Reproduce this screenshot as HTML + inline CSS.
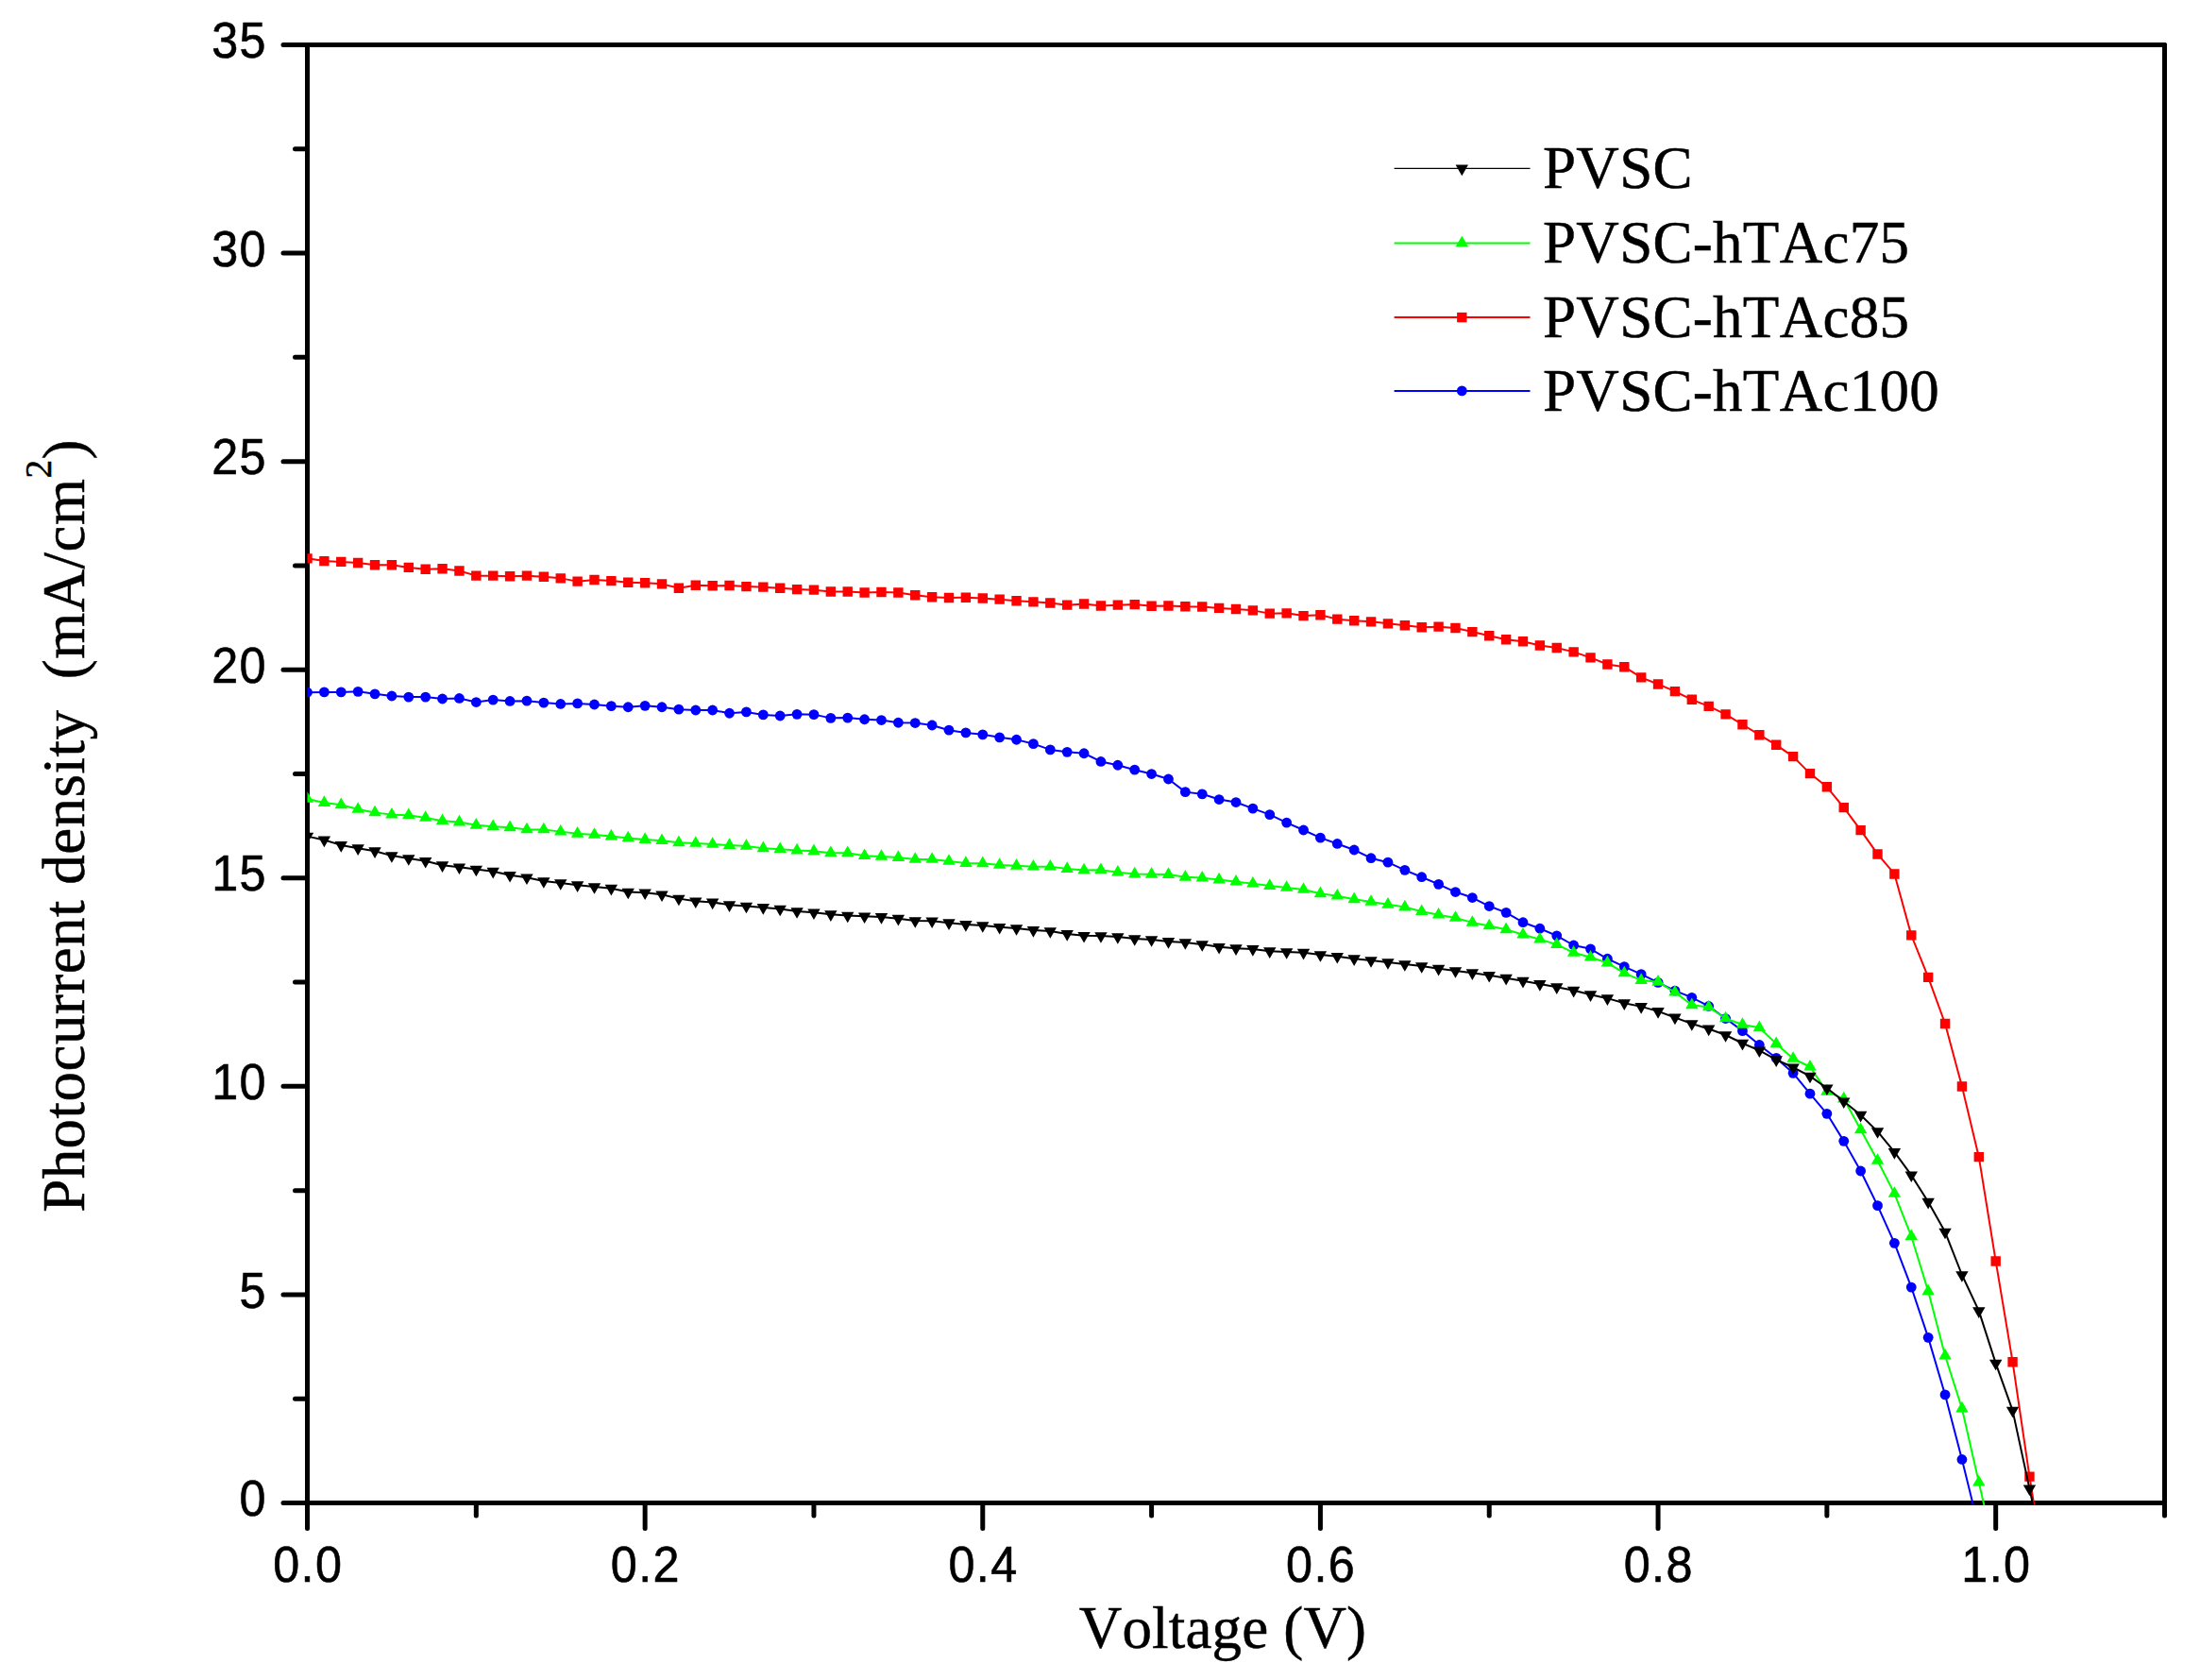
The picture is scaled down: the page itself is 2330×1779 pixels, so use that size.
<!DOCTYPE html>
<html lang="en"><head><meta charset="utf-8"><title>J-V curves</title>
<style>html,body{margin:0;padding:0;background:#fff}svg{display:block}text{font-kerning:none;font-variant-ligatures:none}.tk{font-family:"Liberation Sans",Arial,sans-serif;font-size:53px;fill:#000;stroke:#000;stroke-width:0.6px;letter-spacing:1.45px}.tt{font-family:"Liberation Serif","Times New Roman",serif;font-size:63px;fill:#000;stroke:#000;stroke-width:0.5px}.lg{font-family:"Liberation Serif","Times New Roman",serif;font-size:63px;fill:#000;stroke:#000;stroke-width:0.5px}.ax{stroke:#000;stroke-width:5;stroke-linecap:round;fill:none}</style></head><body>
<svg width="2330" height="1779" viewBox="0 0 2330 1779">
<rect width="2330" height="1779" fill="#fff"/>
<defs><clipPath id="pc"><rect x="325.5" y="45" width="1967" height="1549"/></clipPath></defs>
<g class="ax">
<path d="M325.5 47.5H2292.5"/>
<path d="M325.5 1591.5H2292.5"/>
<path d="M325.5 47.5V1591.5"/>
<path d="M2292.5 47.5V1591.5"/>
<path d="M325.5 1591.5h-25.5M325.5 1481.21h-13M325.5 1370.93h-25.5M325.5 1260.64h-13M325.5 1150.36h-25.5M325.5 1040.07h-13M325.5 929.79h-25.5M325.5 819.5h-13M325.5 709.21h-25.5M325.5 598.93h-13M325.5 488.64h-25.5M325.5 378.36h-13M325.5 268.07h-25.5M325.5 157.79h-13M325.5 47.5h-25.5M325.5 1591.5v27M504.32 1591.5v13.5M683.14 1591.5v27M861.95 1591.5v13.5M1040.77 1591.5v27M1219.59 1591.5v13.5M1398.41 1591.5v27M1577.23 1591.5v13.5M1756.05 1591.5v27M1934.86 1591.5v13.5M2113.68 1591.5v27M2292.5 1591.5v13.5"/>
</g>
<g class="tk" text-anchor="end">
<text transform="translate(283 1605.1) scale(0.95 1)">0</text>
<text transform="translate(283 1384.53) scale(0.95 1)">5</text>
<text transform="translate(283 1163.96) scale(0.95 1)">10</text>
<text transform="translate(283 943.39) scale(0.95 1)">15</text>
<text transform="translate(283 722.81) scale(0.95 1)">20</text>
<text transform="translate(283 502.24) scale(0.95 1)">25</text>
<text transform="translate(283 281.67) scale(0.95 1)">30</text>
<text transform="translate(283 61.1) scale(0.95 1)">35</text>
</g>
<g class="tk" text-anchor="middle">
<text transform="translate(326.2 1675.3) scale(0.95 1)">0.0</text>
<text transform="translate(683.84 1675.3) scale(0.95 1)">0.2</text>
<text transform="translate(1041.47 1675.3) scale(0.95 1)">0.4</text>
<text transform="translate(1399.11 1675.3) scale(0.95 1)">0.6</text>
<text transform="translate(1756.75 1675.3) scale(0.95 1)">0.8</text>
<text transform="translate(2114.38 1675.3) scale(0.95 1)">1.0</text>
</g>
<text class="tt" text-anchor="middle" letter-spacing="0.17" x="1295" y="1744.5">Voltage (V)</text>
<text class="tt" text-anchor="middle" letter-spacing="0.45" transform="translate(89.2 874.4) rotate(-90)" xml:space="preserve">Photocurrent density  (mA/cm<tspan font-size="39.5" dy="-35.3">2</tspan><tspan dy="35.3">)</tspan></text>
<g clip-path="url(#pc)">
<polyline points="325.5,733.18 343.38,732.91 361.26,732.91 379.15,732.36 397.03,734.82 414.91,737 432.79,738.09 450.67,738.09 468.55,740 486.44,739.45 504.32,743.54 522.2,741.09 540.08,742.45 557.96,742.18 575.85,744.09 593.73,745.45 611.61,744.91 629.49,746 647.37,747.63 665.25,748.73 683.14,747.36 701.02,748.73 718.9,751.18 736.78,752 754.66,752 772.55,755.27 790.43,753.91 808.31,756.91 826.19,758 844.07,756.36 861.95,756.63 879.84,760.36 897.72,760.09 915.6,761.73 933.48,762.54 951.36,765.27 969.25,765.54 987.13,768 1005.01,773.18 1022.89,775.91 1040.77,777.82 1058.65,780.82 1076.54,783.27 1094.42,787.63 1112.3,793.91 1130.18,796.36 1148.06,797.73 1165.95,806.45 1183.83,810.27 1201.71,815.18 1219.59,819.54 1237.47,825 1255.35,838.63 1273.24,840.82 1291.12,846.54 1309,849.54 1326.88,856.09 1344.76,862.63 1362.65,871.09 1380.53,879 1398.41,887.18 1416.29,893.45 1434.17,900 1452.05,908.72 1469.94,913.18 1487.82,921.36 1505.7,928.72 1523.58,936.36 1541.46,944.54 1559.35,950.54 1577.23,959.54 1595.11,966.36 1612.99,976.72 1630.87,983.27 1648.75,990.91 1666.64,1001 1684.52,1004.81 1702.4,1015.27 1720.28,1023.56 1738.16,1031.64 1756.05,1040.36 1773.93,1049.09 1791.81,1056.29 1809.69,1065.46 1827.57,1078.55 1845.45,1091.64 1863.34,1106.47 1881.22,1120.44 1899.1,1136.36 1916.98,1158.18 1934.86,1179.35 1952.75,1208.37 1970.63,1240 1988.51,1276.66 2006.39,1316.36 2024.27,1363.09 2042.15,1416.36 2060.04,1476.91 2077.92,1545.45 2095.8,1618.18" fill="none" stroke="#0000ff" stroke-width="2" stroke-linejoin="round"/>
<g fill="#0000ff"><circle cx="325.5" cy="733.18" r="5.4"/><circle cx="343.38" cy="732.91" r="5.4"/><circle cx="361.26" cy="732.91" r="5.4"/><circle cx="379.15" cy="732.36" r="5.4"/><circle cx="397.03" cy="734.82" r="5.4"/><circle cx="414.91" cy="737" r="5.4"/><circle cx="432.79" cy="738.09" r="5.4"/><circle cx="450.67" cy="738.09" r="5.4"/><circle cx="468.55" cy="740" r="5.4"/><circle cx="486.44" cy="739.45" r="5.4"/><circle cx="504.32" cy="743.54" r="5.4"/><circle cx="522.2" cy="741.09" r="5.4"/><circle cx="540.08" cy="742.45" r="5.4"/><circle cx="557.96" cy="742.18" r="5.4"/><circle cx="575.85" cy="744.09" r="5.4"/><circle cx="593.73" cy="745.45" r="5.4"/><circle cx="611.61" cy="744.91" r="5.4"/><circle cx="629.49" cy="746" r="5.4"/><circle cx="647.37" cy="747.63" r="5.4"/><circle cx="665.25" cy="748.73" r="5.4"/><circle cx="683.14" cy="747.36" r="5.4"/><circle cx="701.02" cy="748.73" r="5.4"/><circle cx="718.9" cy="751.18" r="5.4"/><circle cx="736.78" cy="752" r="5.4"/><circle cx="754.66" cy="752" r="5.4"/><circle cx="772.55" cy="755.27" r="5.4"/><circle cx="790.43" cy="753.91" r="5.4"/><circle cx="808.31" cy="756.91" r="5.4"/><circle cx="826.19" cy="758" r="5.4"/><circle cx="844.07" cy="756.36" r="5.4"/><circle cx="861.95" cy="756.63" r="5.4"/><circle cx="879.84" cy="760.36" r="5.4"/><circle cx="897.72" cy="760.09" r="5.4"/><circle cx="915.6" cy="761.73" r="5.4"/><circle cx="933.48" cy="762.54" r="5.4"/><circle cx="951.36" cy="765.27" r="5.4"/><circle cx="969.25" cy="765.54" r="5.4"/><circle cx="987.13" cy="768" r="5.4"/><circle cx="1005.01" cy="773.18" r="5.4"/><circle cx="1022.89" cy="775.91" r="5.4"/><circle cx="1040.77" cy="777.82" r="5.4"/><circle cx="1058.65" cy="780.82" r="5.4"/><circle cx="1076.54" cy="783.27" r="5.4"/><circle cx="1094.42" cy="787.63" r="5.4"/><circle cx="1112.3" cy="793.91" r="5.4"/><circle cx="1130.18" cy="796.36" r="5.4"/><circle cx="1148.06" cy="797.73" r="5.4"/><circle cx="1165.95" cy="806.45" r="5.4"/><circle cx="1183.83" cy="810.27" r="5.4"/><circle cx="1201.71" cy="815.18" r="5.4"/><circle cx="1219.59" cy="819.54" r="5.4"/><circle cx="1237.47" cy="825" r="5.4"/><circle cx="1255.35" cy="838.63" r="5.4"/><circle cx="1273.24" cy="840.82" r="5.4"/><circle cx="1291.12" cy="846.54" r="5.4"/><circle cx="1309" cy="849.54" r="5.4"/><circle cx="1326.88" cy="856.09" r="5.4"/><circle cx="1344.76" cy="862.63" r="5.4"/><circle cx="1362.65" cy="871.09" r="5.4"/><circle cx="1380.53" cy="879" r="5.4"/><circle cx="1398.41" cy="887.18" r="5.4"/><circle cx="1416.29" cy="893.45" r="5.4"/><circle cx="1434.17" cy="900" r="5.4"/><circle cx="1452.05" cy="908.72" r="5.4"/><circle cx="1469.94" cy="913.18" r="5.4"/><circle cx="1487.82" cy="921.36" r="5.4"/><circle cx="1505.7" cy="928.72" r="5.4"/><circle cx="1523.58" cy="936.36" r="5.4"/><circle cx="1541.46" cy="944.54" r="5.4"/><circle cx="1559.35" cy="950.54" r="5.4"/><circle cx="1577.23" cy="959.54" r="5.4"/><circle cx="1595.11" cy="966.36" r="5.4"/><circle cx="1612.99" cy="976.72" r="5.4"/><circle cx="1630.87" cy="983.27" r="5.4"/><circle cx="1648.75" cy="990.91" r="5.4"/><circle cx="1666.64" cy="1001" r="5.4"/><circle cx="1684.52" cy="1004.81" r="5.4"/><circle cx="1702.4" cy="1015.27" r="5.4"/><circle cx="1720.28" cy="1023.56" r="5.4"/><circle cx="1738.16" cy="1031.64" r="5.4"/><circle cx="1756.05" cy="1040.36" r="5.4"/><circle cx="1773.93" cy="1049.09" r="5.4"/><circle cx="1791.81" cy="1056.29" r="5.4"/><circle cx="1809.69" cy="1065.46" r="5.4"/><circle cx="1827.57" cy="1078.55" r="5.4"/><circle cx="1845.45" cy="1091.64" r="5.4"/><circle cx="1863.34" cy="1106.47" r="5.4"/><circle cx="1881.22" cy="1120.44" r="5.4"/><circle cx="1899.1" cy="1136.36" r="5.4"/><circle cx="1916.98" cy="1158.18" r="5.4"/><circle cx="1934.86" cy="1179.35" r="5.4"/><circle cx="1952.75" cy="1208.37" r="5.4"/><circle cx="1970.63" cy="1240" r="5.4"/><circle cx="1988.51" cy="1276.66" r="5.4"/><circle cx="2006.39" cy="1316.36" r="5.4"/><circle cx="2024.27" cy="1363.09" r="5.4"/><circle cx="2042.15" cy="1416.36" r="5.4"/><circle cx="2060.04" cy="1476.91" r="5.4"/><circle cx="2077.92" cy="1545.45" r="5.4"/><circle cx="2095.8" cy="1618.18" r="5.4"/></g>
<polyline points="325.5,591.36 343.38,594.09 361.26,594.91 379.15,596 397.03,598.18 414.91,598.18 432.79,600.91 450.67,602.82 468.55,602.27 486.44,604.45 504.32,609.64 522.2,609.64 540.08,610.18 557.96,609.64 575.85,610.73 593.73,612.36 611.61,615.64 629.49,614 647.37,615.09 665.25,616.73 683.14,617.27 701.02,618.36 718.9,622.73 736.78,619.73 754.66,620.27 772.55,620 790.43,621.09 808.31,621.64 826.19,622.73 844.07,624.09 861.95,624.64 879.84,626.45 897.72,626.45 915.6,627.55 933.48,627 951.36,627.55 969.25,630.27 987.13,632.18 1005.01,633 1022.89,632.73 1040.77,633.55 1058.65,634.64 1076.54,636.27 1094.42,637.36 1112.3,638.45 1130.18,640.64 1148.06,639.55 1165.95,641.45 1183.83,640.64 1201.71,640.09 1219.59,641.73 1237.47,641.45 1255.35,642.27 1273.24,642.55 1291.12,643.91 1309,645 1326.88,646.36 1344.76,649.64 1362.65,649.36 1380.53,652.09 1398.41,651.27 1416.29,655.64 1434.17,657.27 1452.05,658.36 1469.94,660.36 1487.82,662.27 1505.7,664.18 1523.58,663.64 1541.46,665 1559.35,669.09 1577.23,673.18 1595.11,677.27 1612.99,679.18 1630.87,683.54 1648.75,686 1666.64,690.36 1684.52,696.36 1702.4,703.45 1720.28,706.18 1738.16,717.36 1756.05,724.45 1773.93,732.09 1791.81,740.82 1809.69,747.91 1827.57,756.36 1845.45,767.27 1863.34,778.18 1881.22,788.82 1899.1,801.09 1916.98,819.09 1934.86,833.27 1952.75,855.09 1970.63,879.09 1988.51,904.45 2006.39,925.45 2024.27,990.36 2042.15,1034.91 2060.04,1084 2077.92,1150.55 2095.8,1225.17 2113.68,1335.45 2131.56,1442.18 2149.45,1563.64 2167.33,1674.91" fill="none" stroke="#ff0000" stroke-width="2" stroke-linejoin="round"/>
<path fill="#ff0000" d="M320.3 586.16h10.4v10.4h-10.4zM338.18 588.89h10.4v10.4h-10.4zM356.06 589.71h10.4v10.4h-10.4zM373.95 590.8h10.4v10.4h-10.4zM391.83 592.98h10.4v10.4h-10.4zM409.71 592.98h10.4v10.4h-10.4zM427.59 595.71h10.4v10.4h-10.4zM445.47 597.62h10.4v10.4h-10.4zM463.35 597.07h10.4v10.4h-10.4zM481.24 599.25h10.4v10.4h-10.4zM499.12 604.44h10.4v10.4h-10.4zM517 604.44h10.4v10.4h-10.4zM534.88 604.98h10.4v10.4h-10.4zM552.76 604.44h10.4v10.4h-10.4zM570.65 605.53h10.4v10.4h-10.4zM588.53 607.16h10.4v10.4h-10.4zM606.41 610.44h10.4v10.4h-10.4zM624.29 608.8h10.4v10.4h-10.4zM642.17 609.89h10.4v10.4h-10.4zM660.05 611.53h10.4v10.4h-10.4zM677.94 612.07h10.4v10.4h-10.4zM695.82 613.16h10.4v10.4h-10.4zM713.7 617.53h10.4v10.4h-10.4zM731.58 614.53h10.4v10.4h-10.4zM749.46 615.07h10.4v10.4h-10.4zM767.35 614.8h10.4v10.4h-10.4zM785.23 615.89h10.4v10.4h-10.4zM803.11 616.44h10.4v10.4h-10.4zM820.99 617.53h10.4v10.4h-10.4zM838.87 618.89h10.4v10.4h-10.4zM856.75 619.44h10.4v10.4h-10.4zM874.64 621.25h10.4v10.4h-10.4zM892.52 621.25h10.4v10.4h-10.4zM910.4 622.35h10.4v10.4h-10.4zM928.28 621.8h10.4v10.4h-10.4zM946.16 622.35h10.4v10.4h-10.4zM964.05 625.07h10.4v10.4h-10.4zM981.93 626.98h10.4v10.4h-10.4zM999.81 627.8h10.4v10.4h-10.4zM1017.69 627.53h10.4v10.4h-10.4zM1035.57 628.35h10.4v10.4h-10.4zM1053.45 629.44h10.4v10.4h-10.4zM1071.34 631.07h10.4v10.4h-10.4zM1089.22 632.16h10.4v10.4h-10.4zM1107.1 633.25h10.4v10.4h-10.4zM1124.98 635.44h10.4v10.4h-10.4zM1142.86 634.35h10.4v10.4h-10.4zM1160.75 636.25h10.4v10.4h-10.4zM1178.63 635.44h10.4v10.4h-10.4zM1196.51 634.89h10.4v10.4h-10.4zM1214.39 636.53h10.4v10.4h-10.4zM1232.27 636.25h10.4v10.4h-10.4zM1250.15 637.07h10.4v10.4h-10.4zM1268.04 637.35h10.4v10.4h-10.4zM1285.92 638.71h10.4v10.4h-10.4zM1303.8 639.8h10.4v10.4h-10.4zM1321.68 641.16h10.4v10.4h-10.4zM1339.56 644.44h10.4v10.4h-10.4zM1357.45 644.16h10.4v10.4h-10.4zM1375.33 646.89h10.4v10.4h-10.4zM1393.21 646.07h10.4v10.4h-10.4zM1411.09 650.44h10.4v10.4h-10.4zM1428.97 652.07h10.4v10.4h-10.4zM1446.85 653.16h10.4v10.4h-10.4zM1464.74 655.16h10.4v10.4h-10.4zM1482.62 657.07h10.4v10.4h-10.4zM1500.5 658.98h10.4v10.4h-10.4zM1518.38 658.44h10.4v10.4h-10.4zM1536.26 659.8h10.4v10.4h-10.4zM1554.15 663.89h10.4v10.4h-10.4zM1572.03 667.98h10.4v10.4h-10.4zM1589.91 672.07h10.4v10.4h-10.4zM1607.79 673.98h10.4v10.4h-10.4zM1625.67 678.34h10.4v10.4h-10.4zM1643.55 680.8h10.4v10.4h-10.4zM1661.44 685.16h10.4v10.4h-10.4zM1679.32 691.16h10.4v10.4h-10.4zM1697.2 698.25h10.4v10.4h-10.4zM1715.08 700.98h10.4v10.4h-10.4zM1732.96 712.16h10.4v10.4h-10.4zM1750.85 719.25h10.4v10.4h-10.4zM1768.73 726.89h10.4v10.4h-10.4zM1786.61 735.62h10.4v10.4h-10.4zM1804.49 742.71h10.4v10.4h-10.4zM1822.37 751.16h10.4v10.4h-10.4zM1840.25 762.07h10.4v10.4h-10.4zM1858.14 772.98h10.4v10.4h-10.4zM1876.02 783.62h10.4v10.4h-10.4zM1893.9 795.89h10.4v10.4h-10.4zM1911.78 813.89h10.4v10.4h-10.4zM1929.66 828.07h10.4v10.4h-10.4zM1947.55 849.89h10.4v10.4h-10.4zM1965.43 873.89h10.4v10.4h-10.4zM1983.31 899.25h10.4v10.4h-10.4zM2001.19 920.25h10.4v10.4h-10.4zM2019.07 985.16h10.4v10.4h-10.4zM2036.95 1029.71h10.4v10.4h-10.4zM2054.84 1078.8h10.4v10.4h-10.4zM2072.72 1145.35h10.4v10.4h-10.4zM2090.6 1219.97h10.4v10.4h-10.4zM2108.48 1330.25h10.4v10.4h-10.4zM2126.36 1436.98h10.4v10.4h-10.4zM2144.25 1558.44h10.4v10.4h-10.4zM2162.13 1669.71h10.4v10.4h-10.4z"/>
<polyline points="325.5,846 343.38,850.09 361.26,852.27 379.15,856.91 397.03,860.45 414.91,862.63 432.79,863.18 450.67,865.91 468.55,869.18 486.44,870.54 504.32,873.82 522.2,875.18 540.08,876.27 557.96,878.45 575.85,878.45 593.73,880.63 611.61,882.82 629.49,883.91 647.37,885.54 665.25,887.45 683.14,889.09 701.02,890.18 718.9,892.36 736.78,892.91 754.66,894 772.55,895.09 790.43,895.91 808.31,898.36 826.19,899.18 844.07,900.54 861.95,901.36 879.84,903.18 897.72,903.18 915.6,906.18 933.48,907 951.36,908.09 969.25,910 987.13,910 1005.01,911.91 1022.89,914.09 1040.77,914.36 1058.65,916 1076.54,916.82 1094.42,917.63 1112.3,917.63 1130.18,920.09 1148.06,921.45 1165.95,921.18 1183.83,923.63 1201.71,925.54 1219.59,925.82 1237.47,926.09 1255.35,928.82 1273.24,929.63 1291.12,931.54 1309,933.72 1326.88,935.63 1344.76,938.09 1362.65,940 1380.53,941.91 1398.41,946.27 1416.29,948.72 1434.17,952.27 1452.05,955 1469.94,957.82 1487.82,960.54 1505.7,965.18 1523.58,968.72 1541.46,972 1559.35,976.91 1577.23,980.45 1595.11,984.27 1612.99,989.72 1630.87,994.63 1648.75,1000.09 1666.64,1008.81 1684.52,1013.72 1702.4,1019.55 1720.28,1030.45 1738.16,1038.09 1756.05,1039.84 1773.93,1050.75 1791.81,1064.27 1809.69,1066.46 1827.57,1078.46 1845.45,1085 1863.34,1088.27 1881.22,1105.29 1899.1,1121 1916.98,1129.73 1934.86,1155.91 1952.75,1163.55 1970.63,1196.27 1988.51,1229 2006.39,1263.91 2024.27,1309.18 2042.15,1367.36 2060.04,1435.55 2077.92,1491.55 2095.8,1569.73 2113.68,1647.36" fill="none" stroke="#00ff00" stroke-width="2" stroke-linejoin="round"/>
<path fill="#00ff00" d="M325.5 838.26L332.2 849.87L318.8 849.87zM343.38 842.35L350.08 853.96L336.68 853.96zM361.26 844.53L367.96 856.14L354.56 856.14zM379.15 849.17L385.85 860.77L372.45 860.77zM397.03 852.72L403.73 864.32L390.33 864.32zM414.91 854.9L421.61 866.5L408.21 866.5zM432.79 855.44L439.49 867.05L426.09 867.05zM450.67 858.17L457.37 869.77L443.97 869.77zM468.55 861.44L475.25 873.05L461.85 873.05zM486.44 862.81L493.14 874.41L479.74 874.41zM504.32 866.08L511.02 877.68L497.62 877.68zM522.2 867.44L528.9 879.05L515.5 879.05zM540.08 868.53L546.78 880.14L533.38 880.14zM557.96 870.72L564.66 882.32L551.26 882.32zM575.85 870.72L582.55 882.32L569.15 882.32zM593.73 872.9L600.43 884.5L587.03 884.5zM611.61 875.08L618.31 886.68L604.91 886.68zM629.49 876.17L636.19 887.77L622.79 887.77zM647.37 877.81L654.07 889.41L640.67 889.41zM665.25 879.72L671.95 891.32L658.55 891.32zM683.14 881.35L689.84 892.96L676.44 892.96zM701.02 882.44L707.72 894.05L694.32 894.05zM718.9 884.62L725.6 896.23L712.2 896.23zM736.78 885.17L743.48 896.77L730.08 896.77zM754.66 886.26L761.36 897.87L747.96 897.87zM772.55 887.35L779.25 898.96L765.85 898.96zM790.43 888.17L797.13 899.77L783.73 899.77zM808.31 890.62L815.01 902.23L801.61 902.23zM826.19 891.44L832.89 903.05L819.49 903.05zM844.07 892.81L850.77 904.41L837.37 904.41zM861.95 893.62L868.65 905.23L855.25 905.23zM879.84 895.44L886.54 907.05L873.14 907.05zM897.72 895.44L904.42 907.05L891.02 907.05zM915.6 898.44L922.3 910.05L908.9 910.05zM933.48 899.26L940.18 910.87L926.78 910.87zM951.36 900.35L958.06 911.96L944.66 911.96zM969.25 902.26L975.95 913.87L962.55 913.87zM987.13 902.26L993.83 913.87L980.43 913.87zM1005.01 904.17L1011.71 915.77L998.31 915.77zM1022.89 906.35L1029.59 917.96L1016.19 917.96zM1040.77 906.62L1047.47 918.23L1034.07 918.23zM1058.65 908.26L1065.35 919.87L1051.95 919.87zM1076.54 909.08L1083.24 920.68L1069.84 920.68zM1094.42 909.9L1101.12 921.5L1087.72 921.5zM1112.3 909.9L1119 921.5L1105.6 921.5zM1130.18 912.35L1136.88 923.96L1123.48 923.96zM1148.06 913.72L1154.76 925.32L1141.36 925.32zM1165.95 913.44L1172.65 925.05L1159.25 925.05zM1183.83 915.9L1190.53 927.5L1177.13 927.5zM1201.71 917.81L1208.41 929.41L1195.01 929.41zM1219.59 918.08L1226.29 929.68L1212.89 929.68zM1237.47 918.35L1244.17 929.96L1230.77 929.96zM1255.35 921.08L1262.05 932.68L1248.65 932.68zM1273.24 921.9L1279.94 933.5L1266.54 933.5zM1291.12 923.81L1297.82 935.41L1284.42 935.41zM1309 925.99L1315.7 937.59L1302.3 937.59zM1326.88 927.9L1333.58 939.5L1320.18 939.5zM1344.76 930.35L1351.46 941.96L1338.06 941.96zM1362.65 932.26L1369.35 943.87L1355.95 943.87zM1380.53 934.17L1387.23 945.77L1373.83 945.77zM1398.41 938.53L1405.11 950.14L1391.71 950.14zM1416.29 940.99L1422.99 952.59L1409.59 952.59zM1434.17 944.53L1440.87 956.14L1427.47 956.14zM1452.05 947.26L1458.75 958.87L1445.35 958.87zM1469.94 950.08L1476.64 961.68L1463.24 961.68zM1487.82 952.81L1494.52 964.41L1481.12 964.41zM1505.7 957.44L1512.4 969.05L1499 969.05zM1523.58 960.99L1530.28 972.59L1516.88 972.59zM1541.46 964.26L1548.16 975.87L1534.76 975.87zM1559.35 969.17L1566.05 980.77L1552.65 980.77zM1577.23 972.71L1583.93 984.32L1570.53 984.32zM1595.11 976.53L1601.81 988.14L1588.41 988.14zM1612.99 981.99L1619.69 993.59L1606.29 993.59zM1630.87 986.9L1637.57 998.5L1624.17 998.5zM1648.75 992.35L1655.45 1003.96L1642.05 1003.96zM1666.64 1001.08L1673.34 1012.68L1659.94 1012.68zM1684.52 1005.99L1691.22 1017.59L1677.82 1017.59zM1702.4 1011.81L1709.1 1023.41L1695.7 1023.41zM1720.28 1022.72L1726.98 1034.32L1713.58 1034.32zM1738.16 1030.35L1744.86 1041.96L1731.46 1041.96zM1756.05 1032.1L1762.75 1043.7L1749.35 1043.7zM1773.93 1043.01L1780.63 1054.61L1767.23 1054.61zM1791.81 1056.54L1798.51 1068.14L1785.11 1068.14zM1809.69 1058.72L1816.39 1070.32L1802.99 1070.32zM1827.57 1070.72L1834.27 1082.32L1820.87 1082.32zM1845.45 1077.26L1852.15 1088.87L1838.75 1088.87zM1863.34 1080.54L1870.04 1092.14L1856.64 1092.14zM1881.22 1097.56L1887.92 1109.16L1874.52 1109.16zM1899.1 1113.26L1905.8 1124.87L1892.4 1124.87zM1916.98 1121.99L1923.68 1133.6L1910.28 1133.6zM1934.86 1148.17L1941.56 1159.78L1928.16 1159.78zM1952.75 1155.81L1959.45 1167.41L1946.05 1167.41zM1970.63 1188.54L1977.33 1200.14L1963.93 1200.14zM1988.51 1221.27L1995.21 1232.87L1981.81 1232.87zM2006.39 1256.17L2013.09 1267.78L1999.69 1267.78zM2024.27 1301.45L2030.97 1313.05L2017.57 1313.05zM2042.15 1359.63L2048.85 1371.23L2035.45 1371.23zM2060.04 1427.81L2066.74 1439.41L2053.34 1439.41zM2077.92 1483.81L2084.62 1495.41L2071.22 1495.41zM2095.8 1561.99L2102.5 1573.6L2089.1 1573.6zM2113.68 1639.63L2120.38 1651.23L2106.98 1651.23z"/>
<polyline points="325.5,885.63 343.38,889.45 361.26,894.91 379.15,898.18 397.03,901.18 414.91,906.09 432.79,909.09 450.67,911.81 468.55,916.18 486.44,918.36 504.32,920.54 522.2,922.72 540.08,926.81 557.96,929.27 575.85,933.09 593.73,935 611.61,937.18 629.49,939.09 647.37,940.72 665.25,944.54 683.14,945.36 701.02,947.27 718.9,951.63 736.78,954.36 754.66,955.45 772.55,958.18 790.43,959.54 808.31,960.91 826.19,962.54 844.07,965 861.95,966.36 879.84,968.18 897.72,969.54 915.6,970.36 933.48,970.91 951.36,972.7 969.25,975.1 987.13,975.3 1005.01,977.2 1022.89,978.9 1040.77,980.1 1058.65,981.8 1076.54,983.1 1094.42,984.9 1112.3,986 1130.18,988.9 1148.06,990.8 1165.95,991.1 1183.83,992 1201.71,994.1 1219.59,995.1 1237.47,996.9 1255.35,998.1 1273.24,1000.1 1291.12,1002.8 1309,1004.2 1326.88,1004.9 1344.76,1007.2 1362.65,1008.1 1380.53,1008.7 1398.41,1011.1 1416.29,1012.8 1434.17,1015.2 1452.05,1017 1469.94,1019 1487.82,1021 1505.7,1023.1 1523.58,1025.7 1541.46,1028.1 1559.35,1030.2 1577.23,1032.8 1595.11,1035.7 1612.99,1038.7 1630.87,1041.9 1648.75,1045.2 1666.64,1048.7 1684.52,1053.2 1702.4,1057.16 1720.28,1062.18 1738.16,1065.89 1756.05,1070.91 1773.93,1077.46 1791.81,1084 1809.69,1089.46 1827.57,1096 1845.45,1104.73 1863.34,1112.36 1881.22,1122.18 1899.1,1130.26 1916.98,1139.64 1934.86,1152.29 1952.75,1166.26 1970.63,1180.66 1988.51,1198.11 2006.39,1219.93 2024.27,1244.37 2042.15,1272.73 2060.04,1304.55 2077.92,1350 2095.8,1388.18 2113.68,1443.64 2131.56,1493.64 2149.45,1576.36 2167.33,1660.18" fill="none" stroke="#000" stroke-width="2" stroke-linejoin="round"/>
<path fill="#000" d="M325.5 893.37L332.2 881.77L318.8 881.77zM343.38 897.19L350.08 885.58L336.68 885.58zM361.26 902.64L367.96 891.04L354.56 891.04zM379.15 905.92L385.85 894.31L372.45 894.31zM397.03 908.92L403.73 897.31L390.33 897.31zM414.91 913.82L421.61 902.22L408.21 902.22zM432.79 916.82L439.49 905.22L426.09 905.22zM450.67 919.55L457.37 907.95L443.97 907.95zM468.55 923.92L475.25 912.31L461.85 912.31zM486.44 926.1L493.14 914.49L479.74 914.49zM504.32 928.28L511.02 916.67L497.62 916.67zM522.2 930.46L528.9 918.86L515.5 918.86zM540.08 934.55L546.78 922.95L533.38 922.95zM557.96 937.01L564.66 925.4L551.26 925.4zM575.85 940.82L582.55 929.22L569.15 929.22zM593.73 942.73L600.43 931.13L587.03 931.13zM611.61 944.91L618.31 933.31L604.91 933.31zM629.49 946.82L636.19 935.22L622.79 935.22zM647.37 948.46L654.07 936.86L640.67 936.86zM665.25 952.28L671.95 940.67L658.55 940.67zM683.14 953.1L689.84 941.49L676.44 941.49zM701.02 955.01L707.72 943.4L694.32 943.4zM718.9 959.37L725.6 947.76L712.2 947.76zM736.78 962.1L743.48 950.49L730.08 950.49zM754.66 963.19L761.36 951.58L747.96 951.58zM772.55 965.91L779.25 954.31L765.85 954.31zM790.43 967.28L797.13 955.67L783.73 955.67zM808.31 968.64L815.01 957.04L801.61 957.04zM826.19 970.28L832.89 958.67L819.49 958.67zM844.07 972.73L850.77 961.13L837.37 961.13zM861.95 974.1L868.65 962.49L855.25 962.49zM879.84 975.91L886.54 964.31L873.14 964.31zM897.72 977.28L904.42 965.67L891.02 965.67zM915.6 978.1L922.3 966.49L908.9 966.49zM933.48 978.64L940.18 967.04L926.78 967.04zM951.36 980.44L958.06 968.83L944.66 968.83zM969.25 982.84L975.95 971.23L962.55 971.23zM987.13 983.04L993.83 971.43L980.43 971.43zM1005.01 984.94L1011.71 973.33L998.31 973.33zM1022.89 986.64L1029.59 975.03L1016.19 975.03zM1040.77 987.84L1047.47 976.23L1034.07 976.23zM1058.65 989.54L1065.35 977.93L1051.95 977.93zM1076.54 990.84L1083.24 979.23L1069.84 979.23zM1094.42 992.64L1101.12 981.03L1087.72 981.03zM1112.3 993.74L1119 982.13L1105.6 982.13zM1130.18 996.64L1136.88 985.03L1123.48 985.03zM1148.06 998.54L1154.76 986.93L1141.36 986.93zM1165.95 998.84L1172.65 987.23L1159.25 987.23zM1183.83 999.74L1190.53 988.13L1177.13 988.13zM1201.71 1001.84L1208.41 990.23L1195.01 990.23zM1219.59 1002.84L1226.29 991.23L1212.89 991.23zM1237.47 1004.64L1244.17 993.03L1230.77 993.03zM1255.35 1005.84L1262.05 994.23L1248.65 994.23zM1273.24 1007.84L1279.94 996.23L1266.54 996.23zM1291.12 1010.54L1297.82 998.93L1284.42 998.93zM1309 1011.94L1315.7 1000.33L1302.3 1000.33zM1326.88 1012.64L1333.58 1001.03L1320.18 1001.03zM1344.76 1014.94L1351.46 1003.33L1338.06 1003.33zM1362.65 1015.84L1369.35 1004.23L1355.95 1004.23zM1380.53 1016.44L1387.23 1004.83L1373.83 1004.83zM1398.41 1018.84L1405.11 1007.23L1391.71 1007.23zM1416.29 1020.54L1422.99 1008.93L1409.59 1008.93zM1434.17 1022.94L1440.87 1011.33L1427.47 1011.33zM1452.05 1024.74L1458.75 1013.13L1445.35 1013.13zM1469.94 1026.74L1476.64 1015.13L1463.24 1015.13zM1487.82 1028.74L1494.52 1017.13L1481.12 1017.13zM1505.7 1030.84L1512.4 1019.23L1499 1019.23zM1523.58 1033.44L1530.28 1021.83L1516.88 1021.83zM1541.46 1035.84L1548.16 1024.23L1534.76 1024.23zM1559.35 1037.94L1566.05 1026.33L1552.65 1026.33zM1577.23 1040.54L1583.93 1028.93L1570.53 1028.93zM1595.11 1043.44L1601.81 1031.83L1588.41 1031.83zM1612.99 1046.44L1619.69 1034.83L1606.29 1034.83zM1630.87 1049.64L1637.57 1038.03L1624.17 1038.03zM1648.75 1052.94L1655.45 1041.33L1642.05 1041.33zM1666.64 1056.44L1673.34 1044.83L1659.94 1044.83zM1684.52 1060.94L1691.22 1049.33L1677.82 1049.33zM1702.4 1064.9L1709.1 1053.3L1695.7 1053.3zM1720.28 1069.92L1726.98 1058.31L1713.58 1058.31zM1738.16 1073.63L1744.86 1062.02L1731.46 1062.02zM1756.05 1078.65L1762.75 1067.04L1749.35 1067.04zM1773.93 1085.19L1780.63 1073.59L1767.23 1073.59zM1791.81 1091.74L1798.51 1080.13L1785.11 1080.13zM1809.69 1097.19L1816.39 1085.59L1802.99 1085.59zM1827.57 1103.74L1834.27 1092.13L1820.87 1092.13zM1845.45 1112.46L1852.15 1100.86L1838.75 1100.86zM1863.34 1120.1L1870.04 1108.5L1856.64 1108.5zM1881.22 1129.92L1887.92 1118.31L1874.52 1118.31zM1899.1 1137.99L1905.8 1126.39L1892.4 1126.39zM1916.98 1147.37L1923.68 1135.77L1910.28 1135.77zM1934.86 1160.03L1941.56 1148.42L1928.16 1148.42zM1952.75 1173.99L1959.45 1162.39L1946.05 1162.39zM1970.63 1188.39L1977.33 1176.79L1963.93 1176.79zM1988.51 1205.85L1995.21 1194.24L1981.81 1194.24zM2006.39 1227.67L2013.09 1216.06L1999.69 1216.06zM2024.27 1252.1L2030.97 1240.5L2017.57 1240.5zM2042.15 1280.47L2048.85 1268.86L2035.45 1268.86zM2060.04 1312.28L2066.74 1300.68L2053.34 1300.68zM2077.92 1357.74L2084.62 1346.13L2071.22 1346.13zM2095.8 1395.92L2102.5 1384.31L2089.1 1384.31zM2113.68 1451.37L2120.38 1439.77L2106.98 1439.77zM2131.56 1501.37L2138.26 1489.77L2124.86 1489.77zM2149.45 1584.1L2156.15 1572.5L2142.75 1572.5zM2167.33 1667.92L2174.03 1656.31L2160.63 1656.31z"/>
</g>
<path d="M1476.6 178.4H1620.5" stroke="#000" stroke-width="1.4" fill="none"/>
<path fill="#000" d="M1548.3 186.14L1555 174.53L1541.6 174.53z"/>
<text class="lg" letter-spacing="0.3" x="1634" y="199.1">PVSC</text>
<path d="M1476.6 257.4H1620.5" stroke="#00ff00" stroke-width="2" fill="none"/>
<path fill="#00ff00" d="M1548.3 249.66L1555 261.27L1541.6 261.27z"/>
<text class="lg" letter-spacing="0.3" x="1634" y="278.1">PVSC-hTAc75</text>
<path d="M1476.6 336.1H1620.5" stroke="#ff0000" stroke-width="2" fill="none"/>
<path fill="#ff0000" d="M1543.1 330.9h10.4v10.4h-10.4z"/>
<text class="lg" letter-spacing="0.3" x="1634" y="356.8">PVSC-hTAc85</text>
<path d="M1476.6 413.9H1620.5" stroke="#0000ff" stroke-width="2" fill="none"/>
<circle cx="1548.3" cy="413.9" r="5.4" fill="#0000ff"/>
<text class="lg" letter-spacing="0.3" x="1634" y="434.6">PVSC-hTAc100</text>
</svg></body></html>
